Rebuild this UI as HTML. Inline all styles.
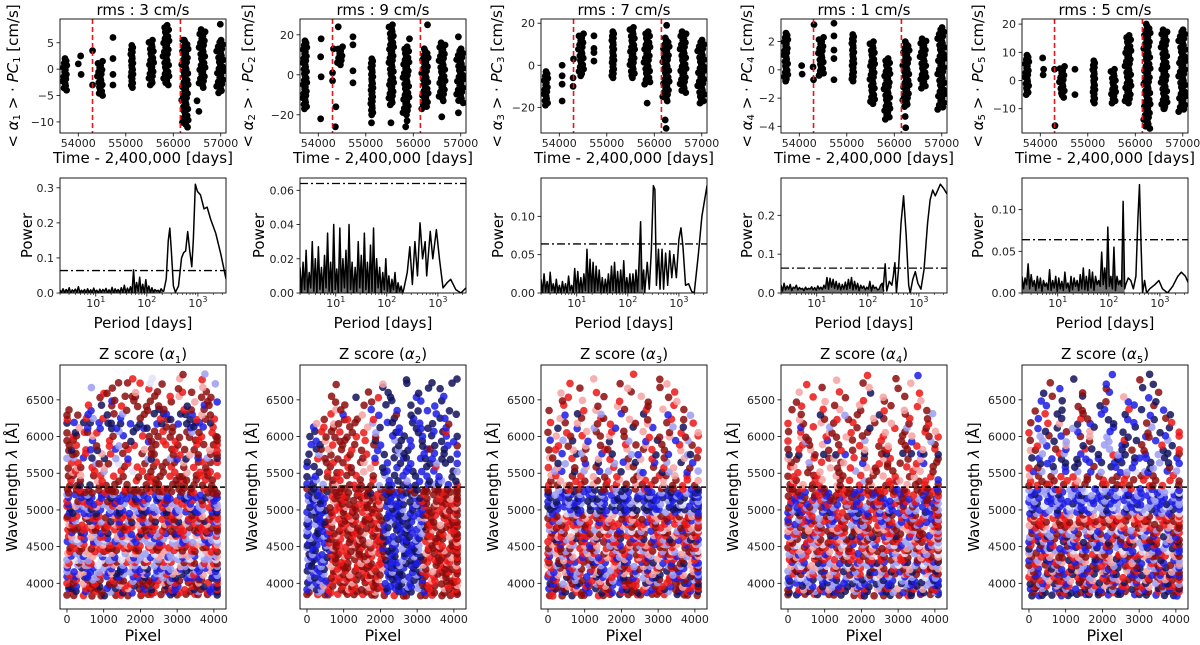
<!DOCTYPE html>
<html><head><meta charset="utf-8"><title>PCA components figure</title>
<style>
html,body{margin:0;padding:0;background:#fff;}
svg{display:block;font-family:"DejaVu Sans","Liberation Sans",sans-serif;}
</style></head>
<body>
<svg id="fig" width="1200" height="645" viewBox="0 0 1200 645" xmlns="http://www.w3.org/2000/svg"></svg>
<script>
// ---------------- layout ----------------
const colX=[60,300,541,781,1022];
const PW=166;
const TOP={y:19,h:114}, MID={y:178,h:115}, BOT={y:365,h:244};
const jitterPattern=[0,0.55,-0.35,0.85,-0.75,0.2,-0.15,0.65,-0.55,0.4,-0.95,0.1,0.3,-0.45,0.75,-0.25];

// ---------------- time series data ----------------
const rmsValues=["3","9","7","1","5"];
const timeRange=[53615,57110];
const timeTicks=[54000,55000,56000,57000];
const redLines=[54300,56150];
const seasonT=[53720,54460,55130,55540,55850,56250,56610,56990];
const seasonW=[90,120,50,110,140,150,140,160];
const tsYlim=[[-12.1,9.5],[-29.1,27.9],[-32.2,22],[-4.47,3.6],[-18.6,21.8]];
const tsYticks=[[-10,-5,0,5],[-20,0,20],[-20,0,20],[-4,-2,0,2],[-10,0,10,20]];
const seasonLo1=[-4,-5,-3.5,-3,-3,-10.5,-3.5,-4.5];
const seasonHi1=[2,1.5,4.5,5.5,8.3,5.5,7.5,5.5];
const seasonLo2=[-17,5,-20,-15,-20,-17,-13,-14];
const seasonHi2=[17,14,8,25,14,13,16,13];
const seasonLo3=[-19,-5,-6,-6,-9,-17,-13,-18];
const seasonHi3=[-3,15,16,18,16,13,16,12];
const seasonLo4=[-0.8,-0.4,-0.8,-2.4,-3.5,-2.6,-1.3,-2.8];
const seasonHi4=[2.6,2.3,2.5,2,0.8,2,2.2,3];
const seasonLo5=[-5,-6,-8,-8,-8,-17,-10,-11];
const seasonHi5=[9,5,7,4,16,20,18,18];
const outT1=[54000,54050,54060,54300,54300,54730,54730,54730,54730,56200,56300,56500,56540,56990];
const outV1=[1,2.5,-1,3.5,-3,6,2,-1,-3,5.5,-11,-6,-8,8.5];
const outT2=[54050,54060,54050,54060,54300,54300,54320,54420,54370,54360,54730,54730,54730,54730,55120,55530,55840,55870,55920,56300,56600,56950,56950];
const outV2=[9,-1,-22,18,1,-3,13,24,-16,-26,19,15,2,-4,-24,-24,-26,-23,18,25,-21,19,-19];
const outT3=[54060,54060,54060,54060,54290,54290,54300,54730,54730,54730,54730,55850,56230,56250,56260];
const outV3=[0,-5,-9,-17,-10,-6,3,2,6,8,14,-18,-26,-30,19];
const outT4=[54050,54060,54290,54300,54310,54730,54730,54730,54730,54730,56230,56240];
const outV4=[0.3,-0.3,0.2,-0.7,3.2,3.3,2.4,1.4,0.8,-0.7,-3.3,-4.1];
const outT5=[54050,54060,54070,54300,54310,54730,54730,56610,56980];
const outV5=[8,2,4,4,-16,4,-5,-10,-10];

// ---------------- periodogram data ----------------
const logPRange=[0.3,3.55];
const noiseStart=0.3, noiseStep=0.03;
const powYlim=[0.328,0.0672,0.15,0.296,0.138];
const powTicks=[[0,0.1,0.2,0.3],[0,0.02,0.04,0.06],[0,0.05,0.10],[0,0.1,0.2],[0,0.05,0.10]];
const powTickLabels=[["0.0","0.1","0.2","0.3"],["0.00","0.02","0.04","0.06"],["0.00","0.05","0.10"],["0.0","0.1","0.2"],["0.00","0.05","0.10"]];
const fapLevel=0.064;
// noise powers in thousandths
const noise1=[8,2,12,1,10,3,15,0,9,4,11,2,18,1,8,3,10,0,12,2,9,1,14,3,8,0,11,2,10,4,13,1,9,2,16,0,12,3,10,1,15,2,22,0,14,3,18,1,66,0,30,5,45,2,25,0,38,4,20,1,15,2,10,5,8,3,12,6];
const noise2=[15,0,18,2,25,0,12,3,30,1,20,0,27,2,15,0,22,3,35,1,18,0,40,2,14,0,38,1,20,3,25,0,40,2,18,0,15,1,30,3,22,0,35,2,18,0,28,1,38,0,20,3,15,0,12,2,20,1,10,0,8,2,12,0,6,1,4,0];
const noise3=[18,0,25,2,15,0,27,3,12,0,18,1,10,0,15,2,12,0,22,3,10,0,32,2,28,0,20,1,25,3,57,0,44,2,40,0,35,3,30,1,20,0,18,2,25,0,35,3,40,1,28,0,30,2,42,0,20,1,25,0,25,0,30,2,40,93,5,30];
const noise4=[20,5,25,8,18,10,22,6,15,12,20,8,14,10,12,6,15,9,12,10,16,8,14,7,18,10,15,9,20,12,40,10,38,15,35,12,30,10,25,8,22,10,28,9,35,12,40,8,30,10,25,6,20,12,18,8,15,10,30,5,20,12,15,8,10,20,25,5];
const noise5=[20,5,18,10,35,5,22,8,15,3,20,6,18,2,15,8,12,4,28,3,15,6,20,2,18,5,14,3,25,6,12,2,20,4,18,8,15,3,22,5,30,4,20,3,28,6,25,3,20,10,15,8,49,10,30,5,79,8,20,5,55,3,20,10,15,8,110,5];
const peakP1=[2.33,2.38,2.42,2.45,2.48,2.52,2.56,2.62,2.68,2.72,2.76,2.8,2.84,2.88,2.91,2.95,2.99,3.05,3.12,3.18,3.25,3.35,3.45,3.55];
const peakW1=[5,40,150,185,120,20,2,20,100,115,120,175,120,75,150,310,290,280,240,245,210,170,110,40];
const peakP2=[2.33,2.4,2.45,2.5,2.55,2.6,2.65,2.7,2.75,2.78,2.85,2.9,2.97,3.03,3.1,3.18,3.25,3.35,3.45,3.55];
const peakW2=[2,12,27,5,30,10,41,20,30,10,36,20,37,20,3,6,8,2,0,3];
const peakP3=[2.33,2.38,2.42,2.46,2.5,2.53,2.56,2.6,2.63,2.67,2.7,2.74,2.78,2.82,2.86,2.9,2.95,3.0,3.04,3.08,3.13,3.19,3.25,3.3,3.38,3.45,3.55];
const peakW3=[0,40,5,55,140,135,10,57,5,57,5,52,10,55,20,50,20,70,85,60,10,12,2,0,50,100,140];
const peakP4=[2.3,2.34,2.37,2.42,2.47,2.5,2.53,2.56,2.6,2.65,2.7,2.75,2.8,2.83,2.88,2.93,2.98,3.04,3.1,3.17,3.22,3.27,3.32,3.37,3.42,3.48,3.55];
const peakW4=[10,75,5,30,20,45,78,0,60,180,250,150,20,0,35,55,25,10,60,180,240,265,250,265,280,270,255];
const peakP5=[2.33,2.38,2.43,2.48,2.53,2.57,2.6,2.63,2.66,2.7,2.74,2.8,2.9,2.98,3.05,3.15,3.25,3.35,3.42,3.5,3.55];
const peakW5=[10,18,15,5,20,90,130,60,0,15,0,5,10,15,5,0,8,20,25,20,13];

// ---------------- z-score data ----------------
const pixRange=[-190,4330];
const wlRange=[3650,6975];
const pixTicks=[0,1000,2000,3000,4000];
const wlTicks=[4000,4500,5000,5500,6000,6500];
const splitWl=5310;
const pixels=[0,215,430,645,860,1075,1290,1505,1720,1935,2150,2365,2580,2795,3010,3225,3440,3655,3870,4085];
const lowerWl=[3840,3880,3920,3960,4000,4040,4080,4120,4160,4200,4240,4280,4320,4360,4400,4440,4480,4520,4560,4600,4640,4680,4720,4760,4800,4840,4880,4920,4960,5000,5040,5080,5120,5160,5200,5240,5280];
const upperWl=[5340,5400,5460,5520,5580,5640,5700,5760,5820,5880,5940,6000,6060,6120,6180,6240,6300,6360,6420,6480,6540,6600,6660,6720,6780,6840];
const zLower1=["RRrRRNRrRRRrRNRRrRRN","rNBrRbrNBrRrBNrRbrBN","BNrRRBNrpRBNRrBrNRBr","NBrRNBbrNBRrNBBrRNBN","rRpRrRRprRrRpRrRRprr","RrRbRrRRbRRrRbRrRRbR","BBNBbBNBBBNBbBNBBBNB","rpBbrpNbrpBbrpNbrpBb","bBpBbBpNbBpBbBpNbBpB","BNBBbBNBBBNBBbBNBBBN","pbpbwbpbpbwbpbpbwbpb","rRrrRrRrrRrRrrRrRrrR","bwbbwbbwbbwbbwbbwbbw","BbBpBbBpBbBpBbBpBbBp","pbwpbwpbwpbwpbwpbwpb","rRprRrRprRrRprRrRprR","RrRRrRRrRRrRRrRRrRRr","rprrprrprrprrprrprrp","BbbBbbBbbBbbBbbBbbBb","bwBbwBbwBbwBbwBbwBbw","rprprrprprrprprrprpr","BNBbBNBbBNBbBNBbBNBb","rRrrRrrRrrRrrRrrRrrR","RRrRRrRRrRRrRRrRRrRR","prrprrprrprrprrprrpr","BbNBbNBbNBbNBbNBbNBb","rrRrrRrrRrrRrrRrrRrr","RrpRrpRrpRrpRrpRrpRr","BNBBNBBNBBNBBNBBNBBN","NBbNBbNBbNBbNBbNBbNB","rpbrpbrpbrpbrpbrpbrp","BbrBbrBbrBbrBbrBbrBb","rRrBrRrBrRrBrRrBrRrB","BBNBBNBBNBBNBBNBBNBB","bBBbBBbBBbBBbBBbBBbB","RRRRrRRRRRrRRRRRrRRR","RRrRRRRrRRRRrRRRRrRR"];
const zUpper1=["RRNNRRR.R.RRRRRRRRR.","rR.pr.R.r.rR.RrRRrR.","RRpRr.rR.RRrRrRRRrRr","pr.rb.r.wrR.Rr.prRr.","RpRr.p.R.r.RRr.Rr.R.","rr.bRRwr.R.rRRp.RrRr","bbBN.Nb.B.bN.bBN.BbN","RRr.pr.R.RRR.RrpR.RR","RNrBN.B.r.pR.RrRR.pr","Rr.R.rbRr..Rr.R.rRRr","RR.B.r..N.BRr.r.Rr.R","rR.p.R.B.rRR.RRR.rRR","RNrRr..bN..RrR.RbRr.",".pB.BNB.NBN.RR.BNBr.","NBNNBNNNBN.BN.BNNBN.","r.rbr.B..R.rRN.NrRr.","RR.B.NRb..RNNBNNBpR.","R..B...R..RNR.rR.R..","...rN.Rr.RR.R..N.BR.",".....BR.R.R..R..pR.B.","....R..RRR.R.rp..RR..","....rR..p..R..rR.R...","...b..R...r...R..p...","......RR.rw.R.....b..","........r..w..p..r...","..............R..b..."];
const zLower2=["RrRRrRRrRRRrRRRRrRRR","RbBrRrRRprBNBNBrRRrR","BNbrRprRrRNBBNbRrpRr","bBpRrRrpRrBNbBNrRrRp","NBbrRRpRrRBBNBbRrRrR","BbBrprRrRpNBbNBprRRr","bNBRrRrRprBNBBNRrpRr","BBbrRpRrRRNBNbBrRRpR","NbBRprRrpRBbNBNrpRrR","bBNrRRrRrpNBBNbRrRRr","BNbprRrRRrBNbBNpRrRp","NBBRrRprRrBBNBBrRprR","bNbrRrRRprNBbNBRrRrR","BBNRpRrRrRBNBbNrRRpr","NbBrRrpRRrbBNBBpRrRR","BNBRrRRrpRNBBNbRrpRr","bBNpRrRrRrBNbBNrRRrR","NBbRrpRRrRBBNBbRprRr","BNBrRRrRpRNbBNBrRrRp","bBNRrRpRrrBNBbNpRRrR","NBbrpRrRRrNBBNBRrRpr","BNBRrRrpRRbBNBbrRrRR","bNBrRRrRrpBNBNBRpRrr","BBbRrpRRrRNBbBNrRRrR","NbNrRrRrRpBNBNbRrpRr","BBNpRRrRrRbBNBBrRrRR","bNBRrRpRRrNBBNbpRrRr","NBbrRrRrpRBNbBNRrRpR","BNBRpRRrRrBBNBBrRRrr","bBNrRrRpRRNBbNBRrpRR","NBbRrpRrRrBNBBNrRrRp","BNBrRRrRRpbBNbBRpRrR","bBNpRrRrRrNBBNBrRRrr","NbBRrRRpRRBNbBNRrRpR","BNBrRrRrRrNBBNbrRrRR","NBNRRRrRNBNBNRRRRrRR","RNRRRRRRRRRRRRNRRRRR"];
const zUpper2=["BNbRpRrRRbNBNBNBbNBr","Bb.Rr.R.r.BNb.BNBbN.","NB.RrRr.R.bNB.NB.BN.",".NrRrR.p.NB.BNB.B.Nb","BN.R.rR.p.NB.B.Nr..","N.RrR.Rpr.BN.B.NbN.B",".rR.Rr.R.B.NBNBNBNN.","Nb.R.R.r.N.bN.B.BN.B",".NRpR.rR.B.NbN.BRN..","BN.rR.R.RB.N.BN.NB.R",".Bp.RR.r.N.bNB.N.N.B","N.RR.Rr.R.B.N.BN.B.N",".NrRr.Rr.b.NB.N.BNr.","B.rR.R.p.N.B.NBN.B..",".p.pR.R.b.BN.NB.N.R.","..R.RrR.r..N.B..NB..","...r.B.p.B.R.N..B..N","...pR...B..B..NB..N.",".....R.R..N..N..B...","...R....R.N...B..N..","...R..N..r.N..B..B..",".......R..N...N.....","..........N....N.N..","...R.....p..N..N..N.",".............N.....N","..................."];
const zLower3=["RrRNRRrRRNRrRRRrNRRR","rBNrRBNrBrRNBrRbNrBN","BNRrpBNrRBNRrBrNRBrr","rRpBrRRpBrRrpRrBRprR","NBbRNBbrNBRrNBbrRNBN","RrRbRrpRbRRrpbRrRRbR","BBNBbBNBrBNBbBNrBBNB","rpRbrpNbrpRbrpNbrpRb","bBpBbBpNbBpBbRpNbBpB","rRBrRrRBrRrRBrRrRBrR","pbRbwbRbpbRbpbwbRbpb","RNBBRNBBrNBBRNBBRNBB","rRprrRprrRprrRprrRpr","BbBpBbBpBbBpBbBpBbBp","rprRrprRrprRrprRrprR","bRbwbRbwbRbwbRbwbRbw","RrRRrRRrRRrRRrRRrRRr","pBpbpBpbpBpbpBpbpBpb","rRrrRrrRrrRrrRrrRrrR","NBbNBbNBbNBbNBbNBbNB","rprprrprprrprprrprpr","RrRRrRRrRRrRRrRRrRRr","bBbwbBbwbBbwbBbwbBbw","pRrpRrpRrpRrpRrpRrpR","rrRrrRrrRrrRrrRrrRrr","BbrBbrBbrBbrBbrBbrBb","RrpRrpRrpRrpRrpRrpRr","rRrpRrRrpRrRrpRrRrpR","bBwbBwbBwbBwbBwbBwbB","NBBNBNNBBNBNNBBNBNNB","NNBNNNBNNNBNNNBNNNBN","bBbBbwbBbBbwbBbBbwbB","BNBbBNBbBNBbBNBbBNBb","NBNNBNNBNNBNNBNNBNNB","BbBBbBBbBBbBBbBBbBBb","NBbNBbNBbNBbNBbNBbNB","RbNrRBNRrbNRrBRNRrBN"];
const zUpper3=["rRpRr.pR.rRpRr.pRr.R","Rp.rR.Rr.pR.rRp.Rr.p","pr.Rr.pR.r.Rp.rRp.r.","bB.Nb.Bb.N.bB.Nb.B.b","rp.R.pR.r.pR.R.rp.R.",".Nb.B.N.bB.N.B.bN.B.","pR.r.Rp.r.R.pr.R.p.R",".B.Nb.B.N.bB.N.B.bN.","Rr.p.R.rR.p.Rr.R.p.r",".rR.p.R..r.Rp.R.r.R.","B.bN.B..N.b.B.N.B.b.",".pR.r.Rp.R..r.Rp.R.r","R.r..pR.r.R.p..R.r.p",".N.B.b..B.N..B.b.N..","r.R.p.R.r..R.p.R..r.",".p..R.rR..p.R..r.R..","..B.N..b.B..N..B..b.","R...r.p..R..r.p..R..","..r...R..p...R..r...",".R..p....r..R...p...","...r...R....p..R....",".p....r...R.....r...","....R.....p...R.....","..r......R.....p....","......p.......R.....","..........r........."];
const zLower4=["RNRrNRRNRrNRRNRrNRRN","NBNbBNBNbBNBNbBNBNbB","RrpRrpRrpRrpRrpRrpRr","BNbBNbBNbBNbBNbBNbBN","bBNbBNbBNbBNbBNbBNbB","NBbNBbNBbNBbNBbNBbNB","BbwBbwBbwBbwBbwBbwBb","rRprRprRprRprRprRprR","bNBbNBbNBbNBbNBbNBbN","RrRpRrRpRrRpRrRpRrRp","pbwpbwpbwpbwpbwpbwpb","BbBNBbBNBbBNBbBNBbBN","rRrrRrrRrrRrrRrrRrrR","RprRprRprRprRprRprRp","bBbwbBbwbBbwbBbwbBbw","rprRrprRrprRrprRrprR","RrRpRrRpRrRpRrRpRrRp","bwBbwBbwBbwBbwBbwBbw","rRrbrRrbrRrbrRrbrRrb","pRrpRrpRrpRrpRrpRrpR","BbNBbNBbNBbNBbNBbNBb","rrRrrRrrRrrRrrRrrRrr","pbRpbRpbRpbRpbRpbRpb","rRprRprRprRprRprRprR","bBbrbBbrbBbrbBbrbBbr","RrBRrBRrBRrBRrBRrBRr","BbrBbrBbrBbrBbrBbrBb","rRbrRbrRbrRbrRbrRbrR","BNBrBNBrBNBrBNBrBNBr","bBrbbBrbbBrbbBrbbBrb","RBbRRBbRRBbRRBbRRBbR","BrBbBrBbBrBbBrBbBrBb","rBRrrBRrrBRrrBRrrBRr","BbRBbRBbRBbRBbRBbRBb","RrBRrBRrBRrBRrBRrBRr","rRBrRBrRBrRBrRBrRBrR","RRrRBRRrRBRRrRBRRrRB"];
const zUpper4=["RrpRr.pR.rRpRr.pRr.R","pR.rp.Rr.bR.rRp.Rr.B","Rr.Rr.pR.r.Rp.rRp.r.",".rR.p.R.b.pR.R.rp.R.","rp.R.pR.r.pR.R.rp.R.","R.b.r.Rp.B.rR.R.rBR.","pR.r.Rp.r.R.pr.R.p.R","NN.RN.NB.N.RN.NNBN.N","Rr.p.R.rR.p.Rr.R.p.r",".rR.p.R..r.Rp.R.r.R.","r.bR.B..R.b.r.R.B.b.",".pR.r.Rp.R..r.Rp.R.r","R.r..pR.r.R.p..R.r.p",".B.r.b..R.N..r.b.R..","r.R.p.R.r..R.p.R..r.",".p..R.rR..p.R..r.R..","..R.N..b.R..N..R..b.","R...r.p..R..r.p..R..","..r...R..p...R..r...",".R..p....r..R...p...","...r...R....p..R....",".p....r...N.....r...","....R.....p...R.....","..r......R.....p....","......p.......R.....","..........r.....B..."];
const zLower5=["NBNNBNNBNNBNNBNNBNNB","RrNRrNRrNRrNRrNRrNRr","BNbBNbBNbBNbBNbBNbBN","rRrpRrrRrpRrrRrpRrrR","NbBNbBNbBNbBNbBNbBNb","RrpRrpRrpRrpRrpRrpRr","rRbrRbrRbrRbrRbrRbrR","BBNBBNBBNBBNBBNBBNBB","pRrpRrpRrpRrpRrpRrpR","bBNbBNbBNbBNbBNbBNbB","RrRbRrRbRrRbRrRbRrRb","rpBrpBrpBrpBrpBrpBrp","BbNBbNBbNBbNBbNBbNBb","RrpRRrpRRrpRRrpRRrpR","pRrpRrpRrpRrpRrpRrpR","bBwbBwbBwbBwbBwbBwbB","NBbNBbNBbNBbNBbNBbNB","rRBrRBrRBrRBrRBrRBrR","BNbBNbBNbBNbBNbBNbBN","rprRrprRrprRrprRrprR","bBNbBNbBNbBNbBNbBNbB","RrbRrbRrbRrbRrbRrbRr","BbwBbwBbwBbwBbwBbwBb","rRprRprRprRprRprRprR","pRrpRrpRrpRrpRrpRrpR","RrRRrRRrRRrRRrRRrRRr","rprrprrprrprrprrprrp","RrpRrpRrpRrpRrpRrpRr","BbBwBbBwBbBwBbBwBbBw","NBbNBbNBbNBbNBbNBbNB","bBwbBwbBwbBwbBwbBwbB","BNBbBNBbBNBbBNBbBNBb","BbBBbBBbBBbBBbBBbBBb","bBBbBBbBBbBBbBBbBBbB","BNbBNbBNbBNbBNbBNbBN","BbBwBbBwBbBwBbBwBbBw","bBbBrbBbBwbBbrBbBbwB"];
const zUpper5=["RrRrR.rR.RrRrR.rRr.R","rR.Rr.pR.rR.rRr.Rr.R","pR.Rr.rR.R.Rr.RrR.r.","Bb.bB.bB.b.BbwbB.Bb.","rR.N.BN.R.NB.B.Nb.R.",".NB.N.NB.NBN.B.NbN.B","NB.BN.NB.B.NBNBB.N.B",".b.rb.B.N.rbN.B.bN.R","pR.R.B.rN.b.NR.R.N.r",".rB.p.N..b.BN.R.r.N.","R.bN.b..R.b.r.N.B.b.",".bR.B.Rp.b..N.BR.B.r","r.N..RB.p.B.N..R.N.r",".B.N.b..N.B..N.b.N..","R.r.p.N.B..N.B.R..r.",".B..N.rR..N.B..N.R..","..r.N..R.B..N..B..N.","R...N.R..B..r.N..B..","..B...R..N...B..R...",".B..N....R..B...N...","...R...N....p..B....",".N....R...B.....R...","....B.....R...N.....","..R......B.....N....","......N.......R.....","..........B....N...."];
const zColors={N:"#12125e",B:"#1c1ce4",b:"#9c9cf2",w:"#e2e2f8",p:"#f4a2a2",r:"#ec1616",R:"#8c0c0c"};
const zJitterX=[0,-60,45,-30,80,-85,20,60,-45,35,-70,10,70,-20,50,-55,25,-90,40,-10,85,-40,15];
const zJitterY=[0,9,-7,4,-11,12,-3,7,-9,2,10,-5,6,-12,3,-8,11,-1,8,-6];

// ---------------- helpers ----------------
const NS="http://www.w3.org/2000/svg";
const svg=document.getElementById('fig');
function mk(tag,attrs,parent){const e=document.createElementNS(NS,tag);for(const k in attrs)e.setAttribute(k,attrs[k]);(parent||svg).appendChild(e);return e;}
function lin(d0,d1,r0,r1){return v=>r0+(v-d0)/(d1-d0)*(r1-r0);}
function fmtNum(v){return (v<0?"\u2212":"")+Math.abs(v);}

function frame(g,x,y,h){
  const r=mk('rect',{x:x,y:y,width:PW,height:h,fill:'none',stroke:'#000','stroke-width':0.9},g);
  
  
}
function xTick(g,px,yb,label,cls,sup){
  const l=mk('line',{x1:px,x2:px,y1:yb,y2:yb+3.5,stroke:'#000','stroke-width':0.8},g);
  
  
  const t=mk('text',{x:px,y:yb+14,'font-size':11,'text-anchor':'middle',fill:'#222'},g);
  
  
  if(sup!==undefined){t.innerHTML='10<tspan font-size="8" dy="-5">'+sup+'</tspan>';}
  else t.textContent=label;
}
function yTick(g,xl,py,label,cls){
  const l=mk('line',{x1:xl-3.5,x2:xl,y1:py,y2:py,stroke:'#000','stroke-width':0.8},g);
  
  
  const t=mk('text',{x:xl-6,y:py+4,'font-size':11,'text-anchor':'end',fill:'#222'},g);
  
  
  t.textContent=label;
}
function vLabel(g,cx,cy,html,size,name){
  const t=mk('text',{x:0,y:0,'font-size':size,'text-anchor':'middle','dominant-baseline':'central',transform:'translate('+cx+','+cy+') rotate(-90)'},g);
  
  
  t.innerHTML=html;
}
function hLabel(g,cx,y,html,size,name){
  const t=mk('text',{x:cx,y:y,'font-size':size,'text-anchor':'middle'},g);
  
  
  t.innerHTML=html;
}

// ---------------- top: time series ----------------
const seasonLo=[seasonLo1,seasonLo2,seasonLo3,seasonLo4,seasonLo5];
const seasonHi=[seasonHi1,seasonHi2,seasonHi3,seasonHi4,seasonHi5];
const outT=[outT1,outT2,outT3,outT4,outT5];
const outV=[outV1,outV2,outV3,outV4,outV5];
const topLabelOff=[-47,-52,-44,-34,-44];
for(let c=0;c<5;c++){
  const x0=colX[c];
  const g=mk('g',{});
  
  
  const sx=lin(timeRange[0],timeRange[1],x0,x0+PW);
  const sy=lin(tsYlim[c][0],tsYlim[c][1],TOP.y+TOP.h,TOP.y);
  const dScale=PW/(timeRange[1]-timeRange[0]);
  const r=3.4;
  const clip=mk('clipPath',{id:'clipT'+c},g);
  mk('rect',{x:x0,y:TOP.y,width:PW,height:TOP.h},clip);
  const data=mk('g',{'clip-path':'url(#clipT'+c+')'},g);
  for(let i=0;i<seasonT.length;i++){
    const yt=sy(seasonHi[c][i]), yb=sy(seasonLo[c][i]);
    const half=seasonW[i]*dScale/2;
    const cxs=sx(seasonT[i]);
    const n=Math.max(2,Math.round((yb-yt)/2.2));
    const cg=mk('g',{},data);
    
    
    for(let k=0;k<=n;k++){
      const py=yt+(yb-yt)*k/n;
      const jx=jitterPattern[(k+i*3)%jitterPattern.length];
      const e=mk('circle',{cx:(cxs+jx*half).toFixed(2),cy:py.toFixed(2),r:r,fill:'#000'},cg);
      
      
    }
  }
  for(let i=0;i<outT[c].length;i++){
    const e=mk('circle',{cx:sx(outT[c][i]),cy:sy(outV[c][i]),r:r,fill:'#000'},data);
    
    
  }
  redLines.forEach(t=>{
    const e=mk('line',{x1:sx(t),x2:sx(t),y1:TOP.y,y2:TOP.y+TOP.h,stroke:'#e8141b','stroke-width':1.6,'stroke-dasharray':'5,3'},data);
    
    
  });
  frame(g,x0,TOP.y,TOP.h);
  timeTicks.forEach(t=>xTick(g,sx(t),TOP.y+TOP.h,String(t),'x'));
  tsYticks[c].forEach(v=>yTick(g,x0,sy(v),fmtNum(v),'y'));
  hLabel(g,x0+PW/2,15,'rms : '+rmsValues[c]+' cm/s',15,'panel-title');
  hLabel(g,x0+PW/2,163,'Time - 2,400,000 [days]',15,'x-axis-title');
  vLabel(g,x0+topLabelOff[c],TOP.y+TOP.h/2,'&lt; <tspan font-style="italic">α</tspan><tspan font-size="10" dy="4">'+(c+1)+'</tspan><tspan dy="-4"> &gt; · </tspan><tspan font-style="italic">PC</tspan><tspan font-size="10" dy="4">'+(c+1)+'</tspan><tspan dy="-4"> [cm/s]</tspan>',15,'y-axis-title');
}

// ---------------- middle: periodograms ----------------
const noises=[noise1,noise2,noise3,noise4,noise5];
const peakPs=[peakP1,peakP2,peakP3,peakP4,peakP5];
const peakWs=[peakW1,peakW2,peakW3,peakW4,peakW5];
const midLabelOff=[-33,-41,-43,-34,-44];
for(let c=0;c<5;c++){
  const x0=colX[c];
  const g=mk('g',{});
  
  
  const sx=lin(logPRange[0],logPRange[1],x0,x0+PW);
  const sy=lin(0,powYlim[c],MID.y+MID.h,MID.y);
  const clip=mk('clipPath',{id:'clipM'+c},g);
  mk('rect',{x:x0,y:MID.y,width:PW,height:MID.h},clip);
  const data=mk('g',{'clip-path':'url(#clipM'+c+')'},g);
  const npts=[];
  noises[c].forEach((v,i)=>npts.push(sx(noiseStart+i*noiseStep).toFixed(2)+','+sy(v/1000).toFixed(2)));
  const lastN=noiseStart+(noises[c].length-1)*noiseStep;
  const area=mk('polygon',{points:sx(noiseStart).toFixed(2)+','+sy(0)+' '+npts.join(' ')+' '+sx(lastN).toFixed(2)+','+sy(0),fill:'#000','fill-opacity':0.55},data);
  
  
  const pts=npts.slice();
  peakPs[c].forEach((p,i)=>pts.push(sx(p).toFixed(2)+','+sy(peakWs[c][i]/1000).toFixed(2)));
  const pl=mk('polyline',{points:pts.join(' '),fill:'none',stroke:'#000','stroke-width':1.5,'stroke-linejoin':'round'},data);
  
  
  const fl=mk('line',{x1:x0,x2:x0+PW,y1:sy(fapLevel),y2:sy(fapLevel),stroke:'#000','stroke-width':1.3,'stroke-dasharray':'8,3,2,3'},data);
  
  
  frame(g,x0,MID.y,MID.h);
  for(let d=0;d<=3;d++){
    for(let m=1;m<10;m++){
      const lp=d+Math.log10(m);
      if(lp<logPRange[0]||lp>logPRange[1])continue;
      if(m===1){xTick(g,sx(lp),MID.y+MID.h,'','x',d);}
      else{
        const l=mk('line',{x1:sx(lp),x2:sx(lp),y1:MID.y+MID.h,y2:MID.y+MID.h+2,stroke:'#000','stroke-width':0.6},g);
        
        
      }
    }
  }
  powTicks[c].forEach((v,i)=>yTick(g,x0,sy(v),powTickLabels[c][i],'y'));
  hLabel(g,x0+PW/2,328,'Period [days]',15,'x-axis-title');
  vLabel(g,x0+midLabelOff[c],MID.y+MID.h/2,'Power',15,'y-axis-title');
}

// ---------------- bottom: z-score maps ----------------
const zLowers=[zLower1,zLower2,zLower3,zLower4,zLower5];
const zUppers=[zUpper1,zUpper2,zUpper3,zUpper4,zUpper5];
for(let c=0;c<5;c++){
  const x0=colX[c];
  const g=mk('g',{});
  
  
  const sx=lin(pixRange[0],pixRange[1],x0,x0+PW);
  const sy=lin(wlRange[0],wlRange[1],BOT.y+BOT.h,BOT.y);
  const clip=mk('clipPath',{id:'clipB'+c},g);
  mk('rect',{x:x0,y:BOT.y,width:PW,height:BOT.h},clip);
  const data=mk('g',{'clip-path':'url(#clipB'+c+')'},g);
  const drawRows=(wls,rows,seed)=>{
    wls.forEach((wl,ri)=>{
      const s=rows[ri]||'';
      pixels.forEach((px,ci)=>{
        const ch=s.charAt(ci);
        const col=zColors[ch];
        if(!col)return;
        const k=ri*7+ci*3+seed;
        const jx=zJitterX[k%zJitterX.length];
        const jy=zJitterY[(ri*5+ci*11+seed)%zJitterY.length];
        const e=mk('circle',{cx:sx(Math.min(4090,Math.max(0,px+jx+((ri%2)?100:0)))).toFixed(2),cy:sy(wl+jy).toFixed(2),r:3.8,fill:col,'fill-opacity':0.85},data);
        
        
      });
    });
  };
  drawRows(lowerWl,zLowers[c],c);
  drawRows(upperWl,zUppers[c],c+4);
  const dl=mk('line',{x1:x0,x2:x0+PW,y1:sy(splitWl),y2:sy(splitWl),stroke:'#000','stroke-width':1.5,'stroke-dasharray':'5,3'},data);
  
  
  frame(g,x0,BOT.y,BOT.h);
  pixTicks.forEach(v=>xTick(g,sx(v),BOT.y+BOT.h,String(v),'x'));
  wlTicks.forEach(v=>yTick(g,x0,sy(v),String(v),'y'));
  hLabel(g,x0+PW/2,359,'Z score (<tspan font-style="italic">α</tspan><tspan font-size="10" dy="4">'+(c+1)+'</tspan><tspan dy="-4">)</tspan>',15,'panel-title');
  hLabel(g,x0+PW/2,641,'Pixel',16,'x-axis-title');
  vLabel(g,x0-48,BOT.y+BOT.h/2,'Wavelength <tspan font-style="italic">λ</tspan> [Å]',15,'y-axis-title');
}
</script>
</body></html>
